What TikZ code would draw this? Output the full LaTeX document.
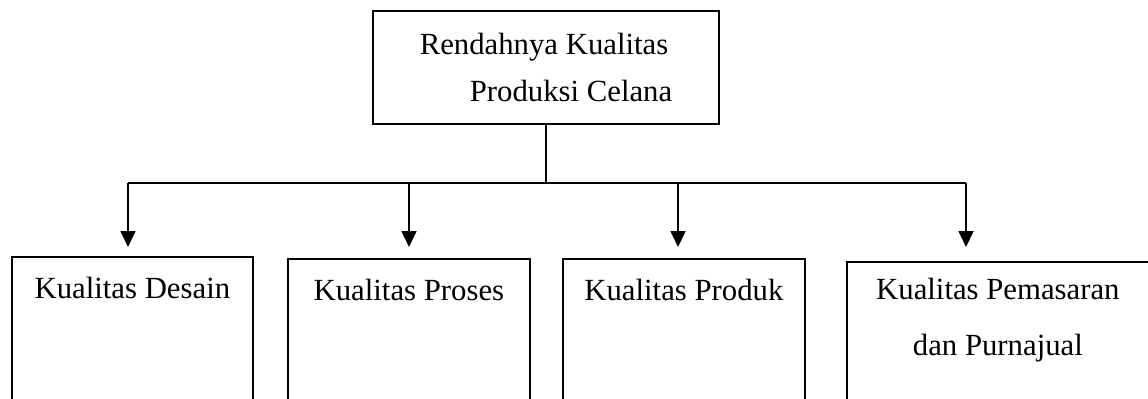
\documentclass[tikz,border=0pt]{standalone}
\usepackage{fontspec}
\setmainfont{Liberation Serif}
\usetikzlibrary{arrows.meta,positioning}
\begin{document}
\begin{tikzpicture}[line width=1pt,
    every node/.style={font=\fontsize{17.5}{26.7}\selectfont},
    kotak/.style={draw,rectangle,inner sep=0pt},
    teks/.style={inner sep=0pt,anchor=north,align=center},
    panah/.style={-{Triangle[width=0.3cm,length=0.32cm]}}]
    \useasboundingbox (0,0) rectangle (22.96,7.96);
    \clip (0,0) rectangle (22.96,7.96);
    \node[kotak,minimum width=6.92cm,minimum height=2.26cm,align=left] (masalah) at (10.92,6.61)
        {Rendahnya Kualitas\\\hspace*{1cm}Produksi Celana};
    \node[kotak,anchor=north west,minimum width=4.82cm,minimum height=3.84cm] (d1) at (0.22,2.84) {};
    \node[kotak,anchor=north west,minimum width=4.84cm,minimum height=3.8cm] (d2) at (5.74,2.80) {};
    \node[kotak,anchor=north west,minimum width=4.84cm,minimum height=3.8cm] (d3) at (11.24,2.80) {};
    \node[kotak,anchor=north west,minimum width=6.18cm,minimum height=3.74cm] (d4) at (16.92,2.74) {};
    \node[teks] (t1) at ([yshift=-0.40cm]d1.north) {Kualitas Desain};
    \node[teks] (t2) at ([yshift=-0.40cm]d2.north) {Kualitas Proses};
    \node[teks] (t3) at ([yshift=-0.40cm]d3.north) {Kualitas Produk};
    \node[teks,font=\fontsize{17.5}{32.3}\selectfont] (t4) at ([xshift=-0.07cm,yshift=-0.32cm]d4.north)
        {Kualitas Pemasaran\\dan Purnajual};
    \foreach \x [count=\i] in {2.56,8.18,13.56,19.32}
    {
    \coordinate (a\i) at (\x,4.30);
    \coordinate (u\i) at (\x,3.02);
    \draw[panah] (a\i) -- (u\i);
    }
    \draw (a1) -- (a4);
    \draw (masalah.south) -- (masalah.south |- a1);
  \end{tikzpicture}
\end{document}
